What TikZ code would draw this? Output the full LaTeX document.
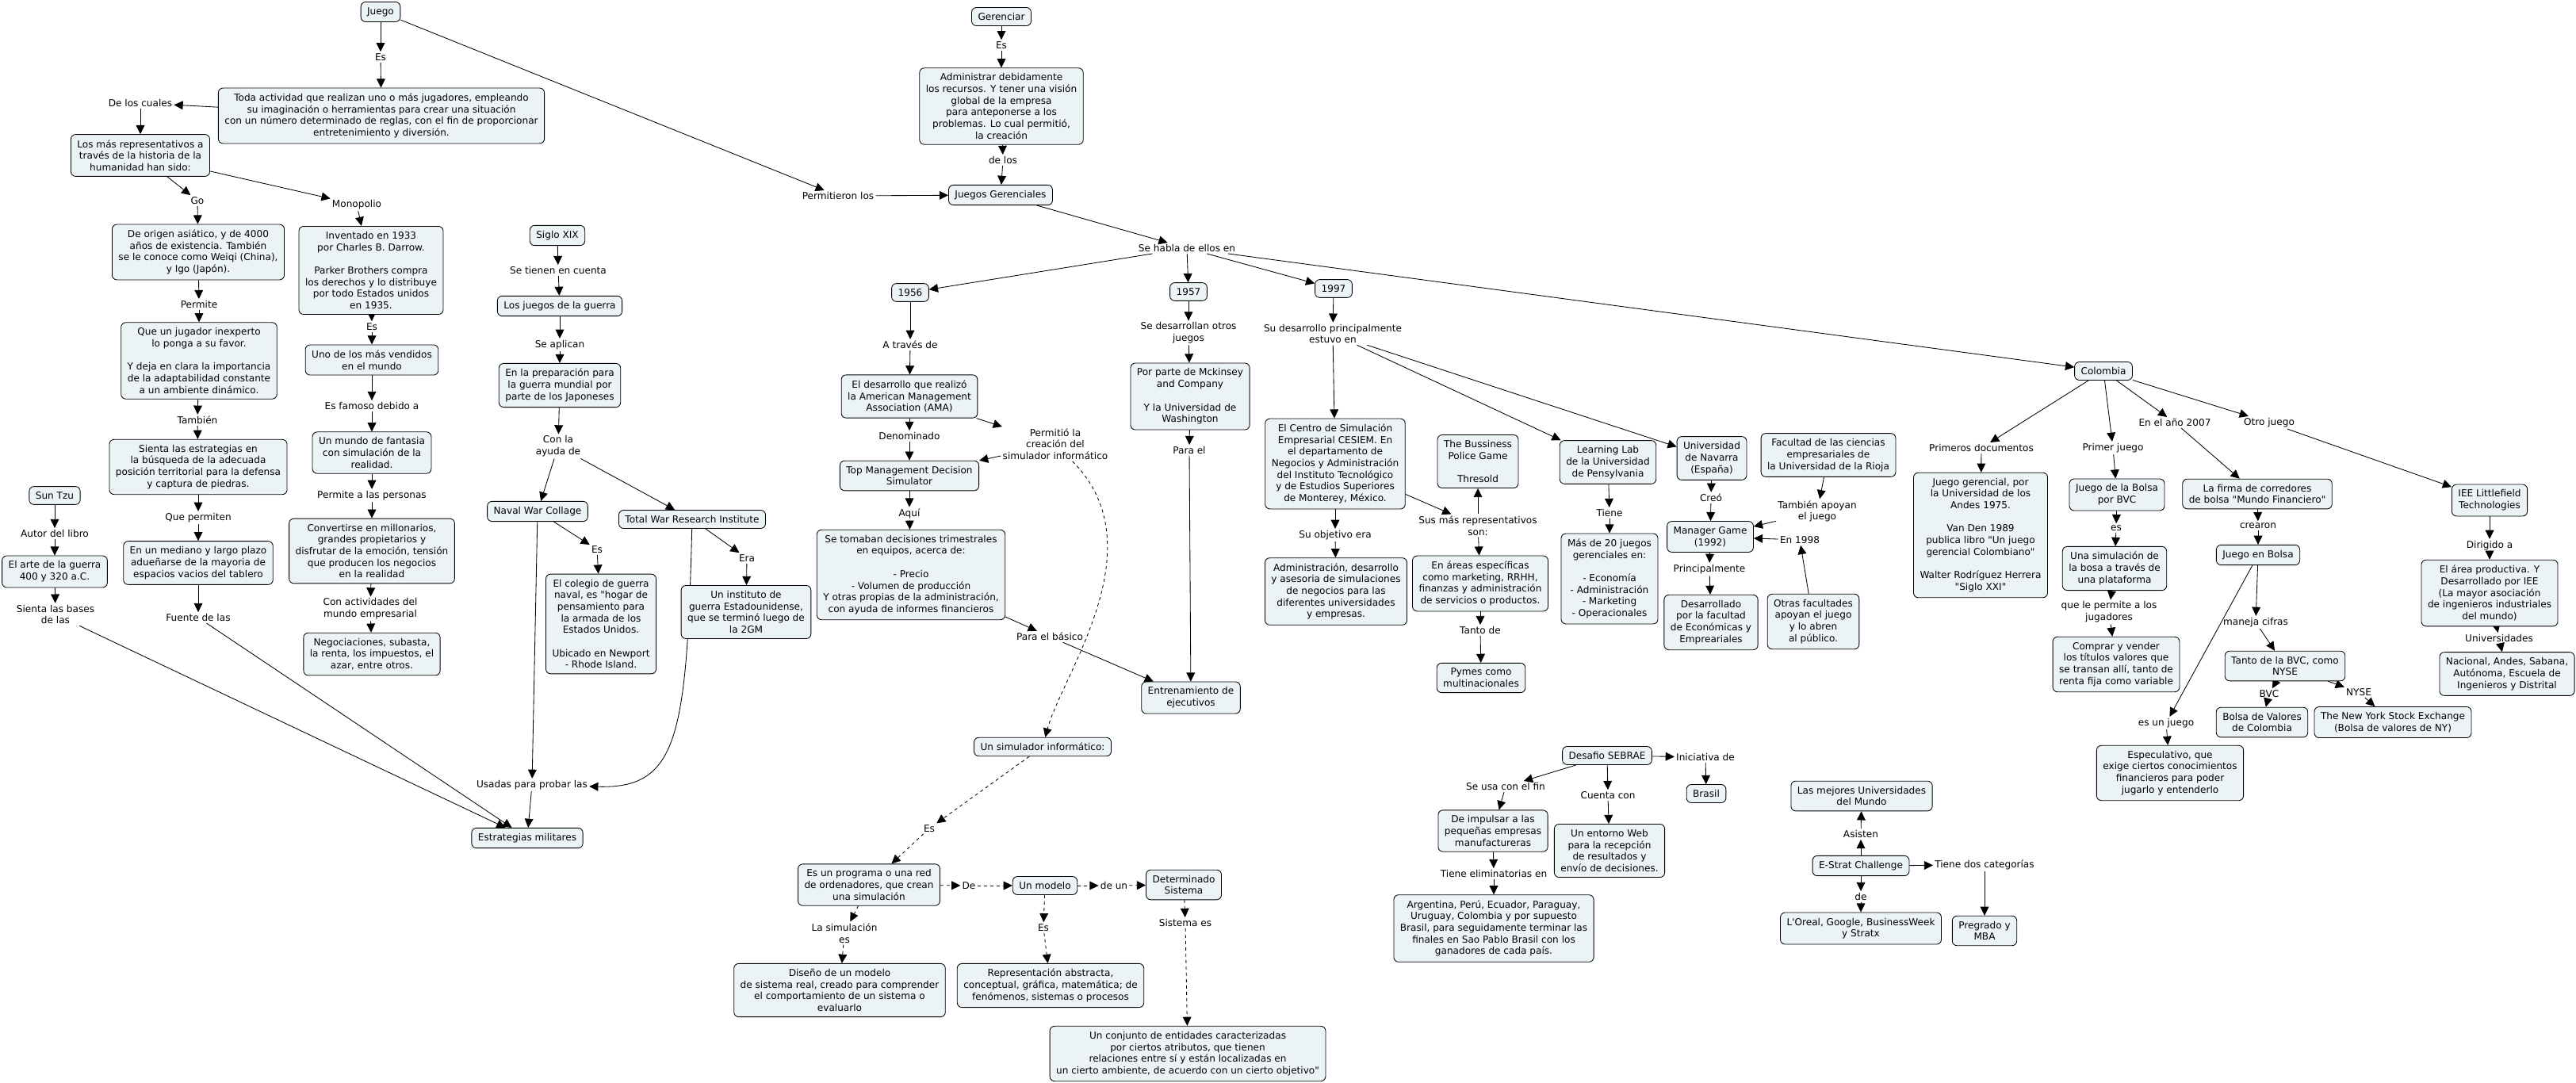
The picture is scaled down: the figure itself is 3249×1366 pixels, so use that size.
\documentclass[tikz,border=0pt]{standalone}
\usepackage{fontspec}
\setmainfont{DejaVu Sans}[Ligatures=TeXOff]
\usetikzlibrary{arrows.meta, backgrounds}
\definecolor{cmfill}{RGB}{236,243,246}
\newcommand{\mapfont}{\fontsize{8.6pt}{10.45pt}\selectfont}
\newcommand{\lgap}{\\[10.45pt]}
\tikzset{
    concept/.style={draw, line width=0.6pt, rounded corners=0.15cm, fill=cmfill, align=center,
                    font=\mapfont, inner xsep=0.2cm, inner ysep=0.17cm},
    phrase/.style={align=center, font=\mapfont, inner sep=0.05cm},
    link/.style={-{Triangle[length=0.28cm,width=0.27cm]}, line width=0.6pt},
    dlink/.style={link, dash pattern=on 0.1cm off 0.1cm},
}

\begin{document}
\begin{tikzpicture}[x=0.025cm, y=-0.025cm]
    \useasboundingbox (0,0) rectangle (3249,1366);
    % juego
    \node[concept] (juego) at (480,15) {Juego};
    \node[phrase] (esjuego1) at (480,72) {Es};
    \node[concept] (toda) at (481,146) {Toda actividad que realizan uno o más jugadores, empleando\\su imaginación o herramientas para crear una situación\\con un número determinado de reglas, con el fin de proporcionar\\entretenimiento y diversión.};
    \node[phrase] (cuales) at (177,130) {De los cuales};
    \node[concept] (losmas) at (177,196) {Los más representativos a\\través de la historia de la\\humanidad han sido:};
    \node[phrase] (go) at (249,253) {Go};
    \node[phrase] (mono) at (450,258) {Monopolio};
    \node[concept] (origen) at (250,318) {De origen asiático, y de 4000\\años de existencia. También\\se le conoce como Weiqi (China),\\y Igo (Japón).};
    \node[concept] (invent) at (468,341) {Inventado en 1933\\por Charles B. Darrow.\lgap Parker Brothers compra\\los derechos y lo distribuye\\por todo Estados unidos\\en 1935.};
    \node[phrase] (permite) at (251,384) {Permite};
    \node[concept] (jugador) at (251,455) {Que un jugador inexperto\\lo ponga a su favor.\lgap Y deja en clara la importancia\\de la adaptabilidad constante\\a un ambiente dinámico.};
    \node[phrase] (esmono) at (469,412) {Es};
    \node[concept] (vendidos) at (469,454) {Uno de los más vendidos\\en el mundo};
    \node[phrase] (tambien) at (249,530) {También};
    \node[concept] (sienta) at (250,589) {Sienta las estrategias en\\la búsqueda de la adecuada\\posición territorial para la defensa\\y captura de piedras.};
    \node[phrase] (quepermiten) at (250,653) {Que permiten};
    \node[concept] (mediano) at (250,710) {En un mediano y largo plazo\\adueñarse de la mayoria de\\espacios vacios del tablero};
    \node[phrase] (fuente) at (250,779) {Fuente de las};
    \node[phrase] (famoso) at (469,512) {Es famoso debido a};
    \node[concept] (fantasia) at (469,571) {Un mundo de fantasia\\con simulación de la\\realidad.};
    \node[phrase] (personas) at (469,625) {Permite a las personas};
    \node[concept] (millon) at (469,695) {Convertirse en millonarios,\\grandes propietarios y\\disfrutar de la emoción, tensión\\que producen los negocios\\en la realidad};
    \node[phrase] (conact) at (467,768) {Con actividades del\\mundo empresarial};
    \node[concept] (negoc) at (469,825) {Negociaciones, subasta,\\la renta, los impuestos, el\\azar, entre otros.};
    \node[concept] (suntzu) at (69,625) {Sun Tzu};
    \node[phrase] (autor) at (69,673) {Autor del libro};
    \node[concept] (arte) at (69,721) {El arte de la guerra\\400 y 320 a.C.};
    \node[phrase] (bases) at (70,775) {Sienta las bases\\de las};
    \node[concept] (estrat) at (665,1057) {Estrategias militares};
    % guerra
    \node[concept] (siglo) at (703,297) {Siglo XIX};
    \node[phrase] (tienen) at (704,341) {Se tienen en cuenta};
    \node[concept] (guerra) at (706,386) {Los juegos de la guerra};
    \node[phrase] (aplican) at (706,435) {Se aplican};
    \node[concept] (prep) at (706,486) {En la preparación para\\la guerra mundial por\\parte de los Japoneses};
    \node[phrase] (ayuda) at (704,563) {Con la\\ayuda de};
    \node[concept] (naval) at (678,645) {Naval War Collage};
    \node[concept] (twri) at (873,655) {Total War Research Institute};
    \node[phrase] (esnaval) at (753,693) {Es};
    \node[concept] (colegio) at (758,787) {El colegio de guerra\\naval, es "hogar de\\pensamiento para\\la armada de los\\Estados Unidos.\lgap Ubicado en Newport\\- Rhode Island.};
    \node[phrase] (era) at (942,704) {Era};
    \node[concept] (instit) at (941,772) {Un instituto de\\guerra Estadounidense,\\que se terminó luego de\\la 2GM};
    \node[phrase] (usadas) at (671,990) {Usadas para probar las};
    % gerenciar
    \node[concept] (gerenc) at (1263,21) {Gerenciar};
    \node[phrase] (esger) at (1263,57) {Es};
    \node[concept] (admin) at (1263,134) {Administrar debidamente\\los recursos. Y tener una visión\\global de la empresa\\para anteponerse a los\\problemas. Lo cual permitió,\\la creación};
    \node[phrase] (delos) at (1265,202) {de los};
    \node[concept] (jg) at (1262,246) {Juegos Gerenciales};
    \node[phrase] (permitieron) at (1057,247) {Permitieron los};
    \node[phrase] (habla) at (1497,313) {Se habla de ellos en};
    \node[concept] (y1956) at (1148,369) {1956};
    \node[concept] (y1957) at (1499,368) {1957};
    \node[concept] (y1997) at (1682,364) {1997};
    \node[phrase] (atraves) at (1148,435) {A través de};
    \node[concept] (ama) at (1147,500) {El desarrollo que realizó\\la American Management\\Association (AMA)};
    \node[phrase] (denom) at (1147,550) {Denominado};
    \node[concept] (tmds) at (1147,600) {Top Management Decision\\Simulator};
    \node[phrase] (permitio) at (1331,560) {Permitió la\\creación del\\simulador informático};
    \node[phrase] (aqui) at (1147,648) {Aquí};
    \node[concept] (trimes) at (1149,725) {Se tomaban decisiones trimestrales\\en equipos, acerca de:\lgap - Precio\\- Volumen de producción\\Y otras propias de la administración,\\con ayuda de informes financieros};
    \node[phrase] (basico) at (1324,803) {Para el básico};
    \node[phrase] (otrosj) at (1499,420) {Se desarrollan otros\\juegos};
    \node[concept] (mck) at (1501,500) {Por parte de Mckinsey\\and Company\lgap Y la Universidad de\\Washington};
    \node[phrase] (parael) at (1500,568) {Para el};
    \node[concept] (entren) at (1502,880) {Entrenamiento de\\ejecutivos};
    % simulador
    \node[concept] (simu) at (1315,942) {Un simulador informático:};
    \node[phrase] (essim) at (1172,1045) {Es};
    \node[concept] (progr) at (1096,1116) {Es un programa o una red\\de ordenadores, que crean\\una simulación};
    \node[phrase] (de) at (1222,1117) {De};
    \node[concept] (modelo) at (1318,1117) {Un modelo};
    \node[phrase] (deun) at (1405,1117) {de un};
    \node[concept] (sistema) at (1493,1116) {Determinado\\Sistema};
    \node[phrase] (lasim) at (1065,1177) {La simulación\\es};
    \node[phrase] (esmod) at (1316,1170) {Es};
    \node[phrase] (sistes) at (1495,1164) {Sistema es};
    \node[concept] (diseno) at (1059,1249) {Diseño de un modelo\\de sistema real, creado para comprender\\el comportamiento de un sistema o\\evaluarlo};
    \node[concept] (repres) at (1325,1243) {Representación abstracta,\\conceptual, gráfica, matemática; de\\fenómenos, sistemas o procesos};
    \node[concept] (conjunto) at (1498,1329) {Un conjunto de entidades caracterizadas\\por ciertos atributos, que tienen\\relaciones entre sí y están localizadas en\\un cierto ambiente, de acuerdo con un cierto objetivo"};
    % 1997
    \node[phrase] (desarr97) at (1681,421) {Su desarrollo principalmente\\estuvo en};
    \node[concept] (cesiem) at (1684,585) {El Centro de Simulación\\Empresarial CESIEM. En\\el departamento de\\Negocios y Administración\\del Instituto Tecnológico\\y de Estudios Superiores\\de Monterey, México.};
    \node[phrase] (objetivo) at (1684,675) {Su objetivo era};
    \node[concept] (objet) at (1685,746) {Administración, desarrollo\\y asesoria de simulaciones\\de negocios para las\\diferentes universidades\\y empresas.};
    \node[concept] (police) at (1864,582) {The Bussiness\\Police Game\lgap Thresold};
    \node[phrase] (susmas) at (1864,663) {Sus más representativos\\son:};
    \node[concept] (areas) at (1867,736) {En áreas específicas\\como marketing, RRHH,\\finanzas y administración\\de servicios o productos.};
    \node[phrase] (tanto) at (1867,795) {Tanto de};
    \node[concept] (pymes) at (1868,855) {Pymes como\\multinacionales};
    \node[concept] (lablab) at (2028,583) {Learning Lab\\de la Universidad\\de Pensylvania};
    \node[phrase] (tiene) at (2030,647) {Tiene};
    \node[concept] (veinte) at (2030,730) {Más de 20 juegos\\gerenciales en:\lgap - Economía\\- Administración\\- Marketing\\- Operacionales};
    \node[concept] (navarra) at (2159,578) {Universidad\\de Navarra\\(España)};
    \node[phrase] (creo) at (2158,628) {Creó};
    \node[concept] (manager) at (2157,677) {Manager Game\\(1992)};
    \node[phrase] (princ) at (2156,718) {Principalmente};
    \node[concept] (desarr) at (2158,785) {Desarrollado\\por la facultad\\de Económicas y\\Empreariales};
    \node[concept] (rioja) at (2306,574) {Facultad de las ciencias\\empresariales de\\la Universidad de la Rioja};
    \node[phrase] (apoyan) at (2292,645) {También apoyan\\el juego};
    \node[phrase] (en98) at (2270,681) {En 1998};
    \node[concept] (otras) at (2287,784) {Otras facultades\\apoyan el juego\\y lo abren\\al público.};
    % sebrae
    \node[concept] (sebrae) at (2027,953) {Desafio SEBRAE};
    \node[phrase] (iniciativa) at (2151,955) {Iniciativa de};
    \node[concept] (brasil) at (2152,1001) {Brasil};
    \node[phrase] (usa) at (1899,992) {Se usa con el fin};
    \node[concept] (impuls) at (1883,1048) {De impulsar a las\\pequeñas empresas\\manufactureras};
    \node[phrase] (cuenta) at (2028,1003) {Cuenta con};
    \node[concept] (entorno) at (2030,1073) {Un entorno Web\\para la recepción\\de resultados y\\envío de decisiones.};
    \node[phrase] (elim) at (1884,1102) {Tiene eliminatorias en};
    \node[concept] (argent) at (1884,1171) {Argentina, Perú, Ecuador, Paraguay,\\Uruguay, Colombia y por supuesto\\Brasil, para seguidamente terminar las\\finales en Sao Pablo Brasil con los\\ganadores de cada país.};
    % e-strat
    \node[concept] (mejores) at (2348,1004) {Las mejores Universidades\\del Mundo};
    \node[phrase] (asisten) at (2347,1052) {Asisten};
    \node[concept] (echall) at (2347,1092) {E-Strat Challenge};
    \node[phrase] (delab) at (2347,1131) {de};
    \node[concept] (loreal) at (2347,1171) {L'Oreal, Google, BusinessWeek\\y Stratx};
    \node[phrase] (categ) at (2503,1091) {Tiene dos categorías};
    \node[concept] (pregr) at (2503,1174) {Pregrado y\\MBA};
    % colombia
    \node[concept] (colombia) at (2653,468) {Colombia};
    \node[phrase] (primdoc) at (2499,565) {Primeros documentos};
    \node[concept] (andes) at (2498,675) {Juego gerencial, por\\la Universidad de los\\Andes 1975.\lgap Van Den 1989\\publica libro "Un juego\\gerencial Colombiano"\lgap Walter Rodríguez Herrera\\"Siglo XXI"};
    \node[phrase] (primjuego) at (2665,565) {Primer juego};
    \node[concept] (bolsa) at (2670,624) {Juego de la Bolsa\\por BVC};
    \node[phrase] (esbolsa) at (2669,666) {es};
    \node[concept] (plataf) at (2667,717) {Una simulación de\\la bosa a través de\\una plataforma};
    \node[phrase] (permjug) at (2660,772) {que le permite a los\\jugadores};
    \node[concept] (comprar) at (2669,838) {Comprar y vender\\los títulos valores que\\se transan allí, tanto de\\renta fija como variable};
    \node[phrase] (anio) at (2743,533) {En el año 2007};
    \node[concept] (firma) at (2847,623) {La firma de corredores\\de bolsa "Mundo Financiero"};
    \node[phrase] (crearon) at (2848,663) {crearon};
    \node[concept] (jbolsa) at (2848,700) {Juego en Bolsa};
    \node[phrase] (maneja) at (2845,785) {maneja cifras};
    \node[concept] (tantobvc) at (2882,840) {Tanto de la BVC, como\\NYSE};
    \node[phrase] (bvc) at (2862,875) {BVC};
    \node[phrase] (nyse) at (2975,873) {NYSE};
    \node[concept] (bvcbox) at (2853,911) {Bolsa de Valores\\de Colombia};
    \node[concept] (nysebox) at (3018,911) {The New York Stock Exchange\\(Bolsa de valores de NY)};
    \node[phrase] (esjuego) at (2732,912) {es un juego};
    \node[concept] (especul) at (2737,975) {Especulativo, que\\exige ciertos conocimientos\\financieros para poder\\jugarlo y entenderlo};
    \node[phrase] (otroj) at (2862,533) {Otro juego};
    \node[concept] (iee) at (3140,631) {IEE Littlefield\\Technologies};
    \node[phrase] (dirigido) at (3140,688) {Dirigido a};
    \node[concept] (area) at (3140,748) {El área productiva. Y\\Desarrollado por IEE\\(La mayor asociación\\de ingenieros industriales\\del mundo)};
    \node[phrase] (univ) at (3152,805) {Universidades};
    \node[concept] (nacional) at (3162,850) {Nacional, Andes, Sabana,\\Autónoma, Escuela de\\Ingenieros y Distrital};

    \begin{scope}[on background layer]
        \fill[white] (0,0) rectangle (3249,1366);
        \draw[link] (juego) -- (esjuego1);
        \draw[link] (esjuego1) -- (toda);
        \draw[link] (juego) -- (permitieron);
        \draw[link] (permitieron) -- (jg);
        \draw[link] (toda) -- (cuales);
        \draw[link] (cuales) -- (losmas);
        \draw[link] (losmas) -- (go);
        \draw[link] (go) -- (origen);
        \draw[link] (losmas) -- (mono);
        \draw[link] (mono) -- (invent);
        \draw[link] (origen) -- (permite);
        \draw[link] (permite) -- (jugador);
        \draw[link] (jugador) -- (tambien);
        \draw[link] (tambien) -- (sienta);
        \draw[link] (sienta) -- (quepermiten);
        \draw[link] (quepermiten) -- (mediano);
        \draw[link] (mediano) -- (fuente);
        \draw[link] (fuente) -- (estrat);
        \draw[link] (invent) -- (esmono);
        \draw[link] (esmono) -- (vendidos);
        \draw[link] (vendidos) -- (famoso);
        \draw[link] (famoso) -- (fantasia);
        \draw[link] (fantasia) -- (personas);
        \draw[link] (personas) -- (millon);
        \draw[link] (millon) -- (conact);
        \draw[link] (conact) -- (negoc);
        \draw[link] (suntzu) -- (autor);
        \draw[link] (autor) -- (arte);
        \draw[link] (arte) -- (bases);
        \draw[link] (bases) -- (estrat);
        \draw[link] (siglo) -- (tienen);
        \draw[link] (tienen) -- (guerra);
        \draw[link] (guerra) -- (aplican);
        \draw[link] (aplican) -- (prep);
        \draw[link] (prep) -- (ayuda);
        \draw[link] (ayuda) -- (naval);
        \draw[link] (ayuda) -- (twri);
        \draw[link] (naval) -- (esnaval);
        \draw[link] (esnaval) -- (colegio);
        \draw[link] (naval) -- (usadas);
        \draw[link] (twri) -- (era);
        \draw[link] (era) -- (instit);
        \draw[link] (twri) .. controls (866,930) and (855,995) .. (usadas);
        \draw[link] (usadas) -- (estrat);
        \draw[link] (gerenc) -- (esger);
        \draw[link] (esger) -- (admin);
        \draw[link] (admin) -- (delos);
        \draw[link] (delos) -- (jg);
        \draw[link] (jg) -- (habla);
        \draw[link] (habla) -- (y1956);
        \draw[link] (habla) -- (y1957);
        \draw[link] (habla) -- (y1997);
        \draw[link] (habla) -- (colombia);
        \draw[link] (y1956) -- (atraves);
        \draw[link] (atraves) -- (ama);
        \draw[link] (ama) -- (denom);
        \draw[link] (denom) -- (tmds);
        \draw[link] (ama) -- (permitio);
        \draw[link] (permitio) -- (tmds);
        \draw[dlink] (permitio) .. controls (1460,690) and (1340,850) .. (simu);
        \draw[link] (tmds) -- (aqui);
        \draw[link] (aqui) -- (trimes);
        \draw[link] (trimes) -- (basico);
        \draw[link] (basico) -- (entren);
        \draw[link] (y1957) -- (otrosj);
        \draw[link] (otrosj) -- (mck);
        \draw[link] (mck) -- (parael);
        \draw[link] (parael) -- (entren);
        \draw[dlink] (simu) -- (essim);
        \draw[dlink] (essim) -- (progr);
        \draw[dlink] (progr) -- (de);
        \draw[dlink] (de) -- (modelo);
        \draw[dlink] (modelo) -- (deun);
        \draw[dlink] (deun) -- (sistema);
        \draw[dlink] (progr) -- (lasim);
        \draw[dlink] (lasim) -- (diseno);
        \draw[dlink] (modelo) -- (esmod);
        \draw[dlink] (esmod) -- (repres);
        \draw[dlink] (sistema) -- (sistes);
        \draw[dlink] (sistes) -- (conjunto);
        \draw[link] (y1997) -- (desarr97);
        \draw[link] (desarr97) -- (cesiem);
        \draw[link] (desarr97) -- (lablab);
        \draw[link] (desarr97) -- (navarra);
        \draw[link] (cesiem) -- (objetivo);
        \draw[link] (objetivo) -- (objet);
        \draw[link] (cesiem) -- (susmas);
        \draw[link] (susmas) -- (police);
        \draw[link] (susmas) -- (areas);
        \draw[link] (areas) -- (tanto);
        \draw[link] (tanto) -- (pymes);
        \draw[link] (lablab) -- (tiene);
        \draw[link] (tiene) -- (veinte);
        \draw[link] (navarra) -- (creo);
        \draw[link] (creo) -- (manager);
        \draw[link] (manager) -- (princ);
        \draw[link] (princ) -- (desarr);
        \draw[link] (rioja) -- (apoyan);
        \draw[link] (apoyan) -- (manager);
        \draw[link] (otras) -- (en98);
        \draw[link] (en98) -- (manager);
        \draw[link] (sebrae) -- (iniciativa);
        \draw[link] (iniciativa) -- (brasil);
        \draw[link] (sebrae) -- (usa);
        \draw[link] (usa) -- (impuls);
        \draw[link] (impuls) -- (elim);
        \draw[link] (elim) -- (argent);
        \draw[link] (sebrae) -- (cuenta);
        \draw[link] (cuenta) -- (entorno);
        \draw[link] (echall) -- (asisten);
        \draw[link] (asisten) -- (mejores);
        \draw[link] (echall) -- (delab);
        \draw[link] (delab) -- (loreal);
        \draw[link] (echall) -- (categ);
        \draw[link] (categ) -- (pregr);
        \draw[link] (colombia) -- (primdoc);
        \draw[link] (primdoc) -- (andes);
        \draw[link] (colombia) -- (primjuego);
        \draw[link] (primjuego) -- (bolsa);
        \draw[link] (bolsa) -- (esbolsa);
        \draw[link] (esbolsa) -- (plataf);
        \draw[link] (plataf) -- (permjug);
        \draw[link] (permjug) -- (comprar);
        \draw[link] (colombia) -- (anio);
        \draw[link] (anio) -- (firma);
        \draw[link] (firma) -- (crearon);
        \draw[link] (crearon) -- (jbolsa);
        \draw[link] (jbolsa) -- (maneja);
        \draw[link] (maneja) -- (tantobvc);
        \draw[link] (tantobvc) -- (bvc);
        \draw[link] (bvc) -- (bvcbox);
        \draw[link] (tantobvc) -- (nyse);
        \draw[link] (nyse) -- (nysebox);
        \draw[link] (jbolsa) -- (esjuego);
        \draw[link] (esjuego) -- (especul);
        \draw[link] (colombia) -- (otroj);
        \draw[link] (otroj) -- (iee);
        \draw[link] (iee) -- (dirigido);
        \draw[link] (dirigido) -- (area);
        \draw[link] (area) -- (univ);
        \draw[link] (univ) -- (nacional);
    \end{scope}
\end{tikzpicture}
\end{document}
